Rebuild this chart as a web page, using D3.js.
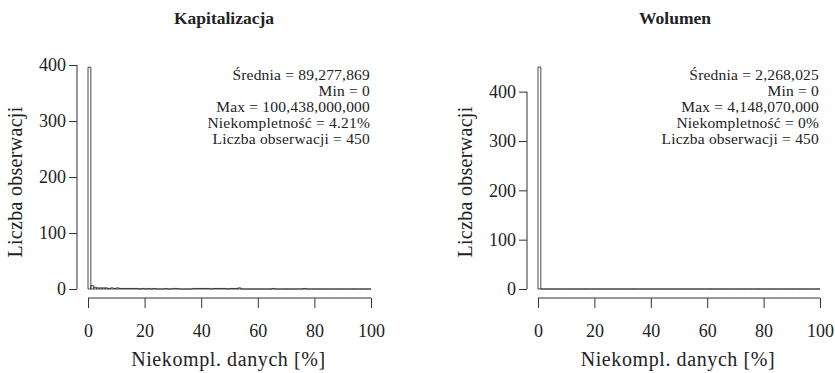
<!DOCTYPE html>
<html>
<head>
<meta charset="utf-8">
<script src="https://cdn.jsdelivr.net/npm/d3@7"></script>
<style>
  html, body { margin: 0; padding: 0; background: #fff; }
  svg { display: block; }
  text { font-family: "Liberation Serif", "Times New Roman", serif; fill: #222; }
</style>
</head>
<body>
<svg id="chart" width="835" height="373"></svg>
<script>
// Histogram bins: 1 percentage point wide, 0..100
const binEdges = d3.range(0, 101, 1);

// Capitalisation: counts of companies per incompleteness bin (non-zero bins)
const kapNonZero = [
  [0, 396], [1, 6], [2, 3], [3, 2], [4, 2], [5, 2], [6, 2], [7, 1], [8, 2], [9, 1],
  [10, 2], [11, 1], [12, 1], [13, 1], [14, 1], [15, 1], [16, 1], [17, 1], [19, 1],
  [21, 1], [23, 1], [27, 1], [30, 1], [31, 1], [37, 1], [38, 1], [39, 1], [40, 1],
  [41, 1], [42, 1], [44, 1], [45, 1], [46, 1], [47, 1], [48, 1], [50, 1], [51, 1],
  [52, 1], [53, 2], [65, 1], [76, 1]
];
// Volume: every observation is complete
const wolNonZero = [[0, 450]];

const yTicks = [0, 100, 200, 300, 400];
const xTicks = [0, 20, 40, 60, 80, 100];

const kapStats = [
  "Średnia = 89,277,869",
  "Min = 0",
  "Max = 100,438,000,000",
  "Niekompletność = 4.21%",
  "Liczba obserwacji = 450"
];
const wolStats = [
  "Średnia = 2,268,025",
  "Min = 0",
  "Max = 4,148,070,000",
  "Niekompletność = 0%",
  "Liczba obserwacji = 450"
];

function toCounts(pairs) {
  const c = new Array(binEdges.length - 1).fill(0);
  pairs.forEach(([b, v]) => { c[b] = v; });
  return c;
}

const panels = [
  { title: "Kapitalizacja", counts: toCounts(kapNonZero), stats: kapStats,
    x0: 88, x1: 371, yAxisX: 77, yMax: 400, yTop: 65, titleX: 224, ylabX: 15 },
  { title: "Wolumen", counts: toCounts(wolNonZero), stats: wolStats,
    x0: 538, x1: 820, yAxisX: 527, yMax: 450, yTop: 67, titleX: 675, ylabX: 465 }
];

const svg = d3.select("#chart");
const yBase = 289;
const xAxisY = 298;
const ink = "#333";

panels.forEach(p => {
  const g = svg.append("g");
  const x = d3.scaleLinear().domain([0, 100]).range([p.x0, p.x1]);
  const y = d3.scaleLinear().domain([0, p.yMax]).range([yBase, p.yTop]);

  // Bars as closed outlines, so empty bins still trace the base line
  g.append("g").selectAll("path")
    .data(p.counts.map((v, i) => ({ lo: binEdges[i], hi: binEdges[i + 1], v })))
    .join("path")
    .attr("d", d => `M${x(d.lo)},${y(0)}V${y(d.v)}H${x(d.hi)}V${y(0)}Z`)
    .attr("fill", "none")
    .attr("stroke", ink)
    .attr("stroke-width", 0.9);

  // Y axis
  const yAxis = g.append("g")
    .attr("transform", `translate(${p.yAxisX},0)`)
    .call(d3.axisLeft(y).tickValues(yTicks).tickSize(8).tickPadding(3).tickSizeOuter(0));
  yAxis.select(".domain").remove();
  yAxis.append("line")
    .attr("x1", 0).attr("x2", 0)
    .attr("y1", y(0)).attr("y2", y(d3.max(yTicks)))
    .attr("stroke", ink);
  yAxis.selectAll(".tick line").attr("stroke", ink);
  yAxis.selectAll("text").attr("font-size", 18).attr("font-family", "Liberation Serif").attr("fill", "#222");

  // X axis
  const xAxis = g.append("g")
    .attr("transform", `translate(0,${xAxisY})`)
    .call(d3.axisBottom(x).tickValues(xTicks).tickSize(10).tickPadding(16).tickSizeOuter(0));
  xAxis.select(".domain").attr("stroke", ink).attr("d", `M${p.x0},0H${p.x1}`);
  xAxis.selectAll(".tick line").attr("stroke", ink);
  xAxis.selectAll("text").attr("font-size", 18).attr("font-family", "Liberation Serif").attr("fill", "#222");

  // Title
  g.append("text")
    .attr("x", p.titleX).attr("y", 24)
    .attr("text-anchor", "middle")
    .attr("font-weight", "bold")
    .attr("font-size", 17.5)
    .text(p.title);

  // Axis titles
  g.append("text")
    .attr("x", (p.x0 + p.x1) / 2 - 1).attr("y", 366)
    .attr("text-anchor", "middle")
    .attr("font-size", 20)
    .attr("letter-spacing", 0.6)
    .text("Niekompl. danych [%]");
  g.append("text")
    .attr("transform", `translate(${p.ylabX + 7},182) rotate(-90)`)
    .attr("text-anchor", "middle")
    .attr("font-size", 20)
    .attr("letter-spacing", 0.3)
    .text("Liczba obserwacji");

  // Summary statistics, right-aligned
  g.append("g").selectAll("text")
    .data(p.stats)
    .join("text")
    .attr("x", p.x1 - 1)
    .attr("y", (d, i) => 80 + i * 16)
    .attr("text-anchor", "end")
    .attr("font-size", 15.5)
    .attr("letter-spacing", 0.2)
    .text(d => d);
});
</script>
</body>
</html>
